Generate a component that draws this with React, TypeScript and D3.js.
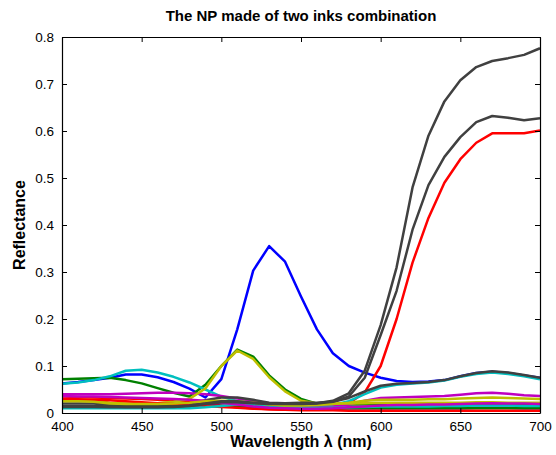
import React, { useEffect, useRef } from 'react'
import * as d3 from 'd3'

// wavelengths in nm, 400..700 every 10
const wavelengths = [400, 410, 420, 430, 440, 450, 460, 470, 480, 490, 500, 510, 520, 530, 540, 550, 560, 570, 580, 590, 600, 610, 620, 630, 640, 650, 660, 670, 680, 690, 700]

const blue1 = [0.063, 0.066, 0.070, 0.075, 0.082, 0.082, 0.076, 0.066, 0.052, 0.033, 0.072, 0.178, 0.303, 0.355, 0.322, 0.248, 0.178, 0.127, 0.100, 0.086, 0.075, 0.068, 0.066, 0.067, 0.070, 0.078, 0.085, 0.088, 0.085, 0.080, 0.075]
const green1 = [0.072, 0.073, 0.074, 0.075, 0.070, 0.063, 0.053, 0.043, 0.035, 0.060, 0.100, 0.135, 0.120, 0.080, 0.050, 0.030, 0.020, 0.018, 0.018, 0.018, 0.018, 0.018, 0.018, 0.018, 0.018, 0.018, 0.018, 0.018, 0.018, 0.018, 0.018]
const red1 = [0.035, 0.034, 0.033, 0.032, 0.031, 0.030, 0.028, 0.026, 0.024, 0.020, 0.016, 0.012, 0.010, 0.008, 0.007, 0.007, 0.008, 0.010, 0.020, 0.044, 0.100, 0.200, 0.320, 0.415, 0.490, 0.540, 0.575, 0.595, 0.595, 0.595, 0.601]
const cyan1 = [0.062, 0.065, 0.070, 0.078, 0.090, 0.092, 0.086, 0.077, 0.065, 0.050, 0.035, 0.025, 0.020, 0.016, 0.014, 0.014, 0.015, 0.017, 0.025, 0.040, 0.054, 0.060, 0.063, 0.065, 0.069, 0.077, 0.083, 0.086, 0.083, 0.078, 0.072]
const magenta1 = [0.040, 0.040, 0.040, 0.040, 0.041, 0.042, 0.043, 0.043, 0.042, 0.040, 0.036, 0.031, 0.026, 0.021, 0.016, 0.013, 0.012, 0.014, 0.018, 0.026, 0.032, 0.033, 0.034, 0.035, 0.036, 0.039, 0.042, 0.043, 0.041, 0.038, 0.036]
const yellow1 = [0.028, 0.028, 0.027, 0.022, 0.020, 0.020, 0.021, 0.024, 0.030, 0.052, 0.100, 0.133, 0.115, 0.076, 0.046, 0.026, 0.020, 0.020, 0.020, 0.021, 0.022, 0.022, 0.022, 0.022, 0.022, 0.022, 0.023, 0.023, 0.022, 0.022, 0.022]
const gray1 = [0.020, 0.020, 0.020, 0.017, 0.016, 0.016, 0.016, 0.017, 0.020, 0.027, 0.033, 0.033, 0.028, 0.022, 0.021, 0.022, 0.022, 0.024, 0.032, 0.046, 0.058, 0.062, 0.064, 0.066, 0.070, 0.078, 0.085, 0.089, 0.086, 0.081, 0.075]
const blue2 = [0.012, 0.012, 0.012, 0.012, 0.012, 0.012, 0.012, 0.013, 0.015, 0.020, 0.022, 0.020, 0.016, 0.012, 0.010, 0.009, 0.009, 0.009, 0.010, 0.010, 0.010, 0.010, 0.010, 0.010, 0.010, 0.010, 0.011, 0.011, 0.011, 0.010, 0.010]
const green2 = [0.014, 0.014, 0.014, 0.013, 0.013, 0.013, 0.013, 0.013, 0.013, 0.014, 0.015, 0.015, 0.014, 0.012, 0.011, 0.010, 0.010, 0.010, 0.010, 0.010, 0.010, 0.010, 0.010, 0.010, 0.010, 0.010, 0.010, 0.010, 0.010, 0.010, 0.010]
const red2 = [0.030, 0.029, 0.028, 0.027, 0.025, 0.023, 0.021, 0.019, 0.017, 0.015, 0.013, 0.011, 0.009, 0.008, 0.007, 0.006, 0.006, 0.006, 0.005, 0.005, 0.005, 0.005, 0.005, 0.005, 0.005, 0.005, 0.005, 0.005, 0.005, 0.005, 0.005]
const cyan2 = [0.010, 0.010, 0.010, 0.010, 0.010, 0.010, 0.010, 0.010, 0.010, 0.012, 0.015, 0.018, 0.017, 0.014, 0.012, 0.011, 0.011, 0.011, 0.012, 0.013, 0.014, 0.014, 0.014, 0.014, 0.015, 0.015, 0.016, 0.016, 0.016, 0.015, 0.015]
const magenta2 = [0.036, 0.035, 0.035, 0.034, 0.033, 0.032, 0.031, 0.030, 0.028, 0.026, 0.022, 0.018, 0.014, 0.011, 0.010, 0.009, 0.009, 0.010, 0.012, 0.014, 0.016, 0.017, 0.017, 0.018, 0.018, 0.019, 0.020, 0.021, 0.020, 0.020, 0.019]
const yellow2 = [0.025, 0.025, 0.024, 0.020, 0.019, 0.019, 0.019, 0.020, 0.022, 0.025, 0.026, 0.025, 0.022, 0.018, 0.016, 0.016, 0.017, 0.019, 0.022, 0.026, 0.028, 0.028, 0.028, 0.029, 0.029, 0.031, 0.032, 0.033, 0.032, 0.031, 0.030]
const gray2 = [0.015, 0.015, 0.015, 0.014, 0.013, 0.013, 0.013, 0.014, 0.016, 0.020, 0.025, 0.025, 0.022, 0.020, 0.020, 0.020, 0.021, 0.026, 0.042, 0.090, 0.187, 0.310, 0.480, 0.590, 0.663, 0.708, 0.736, 0.749, 0.755, 0.762, 0.776]
const gray3 = [0.013, 0.013, 0.013, 0.012, 0.012, 0.012, 0.012, 0.013, 0.015, 0.019, 0.023, 0.023, 0.021, 0.019, 0.019, 0.019, 0.020, 0.024, 0.035, 0.075, 0.166, 0.260, 0.390, 0.485, 0.545, 0.587, 0.619, 0.632, 0.628, 0.623, 0.627]

const xTicks = [400, 450, 500, 550, 600, 650, 700]
const yTicks = [0, 0.1, 0.2, 0.3, 0.4, 0.5, 0.6, 0.7, 0.8]

// matlab's old default colour order
const B = '#0000ff', G = '#008000', R = '#ff0000', C = '#00bfbf', M = '#bf00bf', Y = '#bfbf00', K = '#404040'

const series: [number[], string][] = [
  [blue1, B], [green1, G], [red1, R], [cyan1, C], [magenta1, M], [yellow1, Y], [gray1, K],
  [blue2, B], [green2, G], [red2, R], [cyan2, C], [magenta2, M], [yellow2, Y], [gray2, K],
  [gray3, K],
]

const W = 556, H = 455
const margin = { left: 62, right: 16, top: 37, bottom: 42 }
const FONT = '"Liberation Sans", Arial, Helvetica, sans-serif'

export default function App() {
  const ref = useRef<SVGSVGElement>(null)

  useEffect(() => {
    const svg = d3.select(ref.current)
    svg.selectAll('*').remove()

    const x = d3.scaleLinear().domain([400, 700]).range([margin.left, W - margin.right])
    const y = d3.scaleLinear().domain([0, 0.8]).range([H - margin.bottom, margin.top])

    const plotW = W - margin.left - margin.right
    const plotH = H - margin.top - margin.bottom

    svg.append('defs').append('clipPath').attr('id', 'plotclip')
      .append('rect')
      .attr('x', margin.left).attr('y', margin.top - 2)
      .attr('width', plotW).attr('height', plotH + 2)

    const line = d3.line<number>()
      .x((d, i) => x(wavelengths[i]))
      .y(d => y(d))

    const g = svg.append('g').attr('clip-path', 'url(#plotclip)')
    series.forEach(([vals, col]) => {
      g.append('path')
        .attr('d', line(vals))
        .attr('fill', 'none')
        .attr('stroke', col)
        .attr('stroke-width', 2.5)
        .attr('stroke-linejoin', 'round')
    })

    // box with inward ticks, both sides
    const tk = 5
    svg.append('g').attr('transform', `translate(0,${H - margin.bottom})`)
      .call(d3.axisBottom(x).tickValues(xTicks).tickSizeInner(-tk).tickSizeOuter(0).tickPadding(8).tickFormat(d3.format('d')))
    svg.append('g').attr('transform', `translate(0,${margin.top})`)
      .call(d3.axisTop(x).tickValues(xTicks).tickSizeInner(-tk).tickSizeOuter(0).tickFormat(() => ''))
    svg.append('g').attr('transform', `translate(${margin.left},0)`)
      .call(d3.axisLeft(y).tickValues(yTicks).tickSizeInner(-tk).tickSizeOuter(0).tickPadding(8).tickFormat(d => d === 0 ? '0' : d3.format('.1f')(d as number)))
    svg.append('g').attr('transform', `translate(${W - margin.right},0)`)
      .call(d3.axisRight(y).tickValues(yTicks).tickSizeInner(-tk).tickSizeOuter(0).tickFormat(() => ''))

    svg.selectAll('.domain').attr('stroke', '#000').attr('stroke-width', 1.2)
    svg.selectAll('.tick line').attr('stroke', '#000')
    svg.selectAll('.tick text').attr('font-family', FONT).attr('font-size', 13.5).attr('fill', '#000')

    svg.append('text')
      .attr('x', margin.left + plotW / 2).attr('y', 21)
      .attr('text-anchor', 'middle')
      .attr('font-family', FONT).attr('font-size', 15).attr('font-weight', 'bold')
      .text('The NP made of two inks combination')

    svg.append('text')
      .attr('x', margin.left + plotW / 2).attr('y', 447)
      .attr('text-anchor', 'middle')
      .attr('font-family', FONT).attr('font-size', 16).attr('font-weight', 'bold')
      .text('Wavelength λ (nm)')

    svg.append('text')
      .attr('transform', `translate(25,${margin.top + plotH / 2}) rotate(-90)`)
      .attr('text-anchor', 'middle')
      .attr('font-family', FONT).attr('font-size', 16).attr('font-weight', 'bold')
      .text('Reflectance')
  }, [])

  return (
    <svg ref={ref} width={W} height={H} style={{ position: 'absolute', left: 0, top: 0, background: '#fff' }} />
  )
}
